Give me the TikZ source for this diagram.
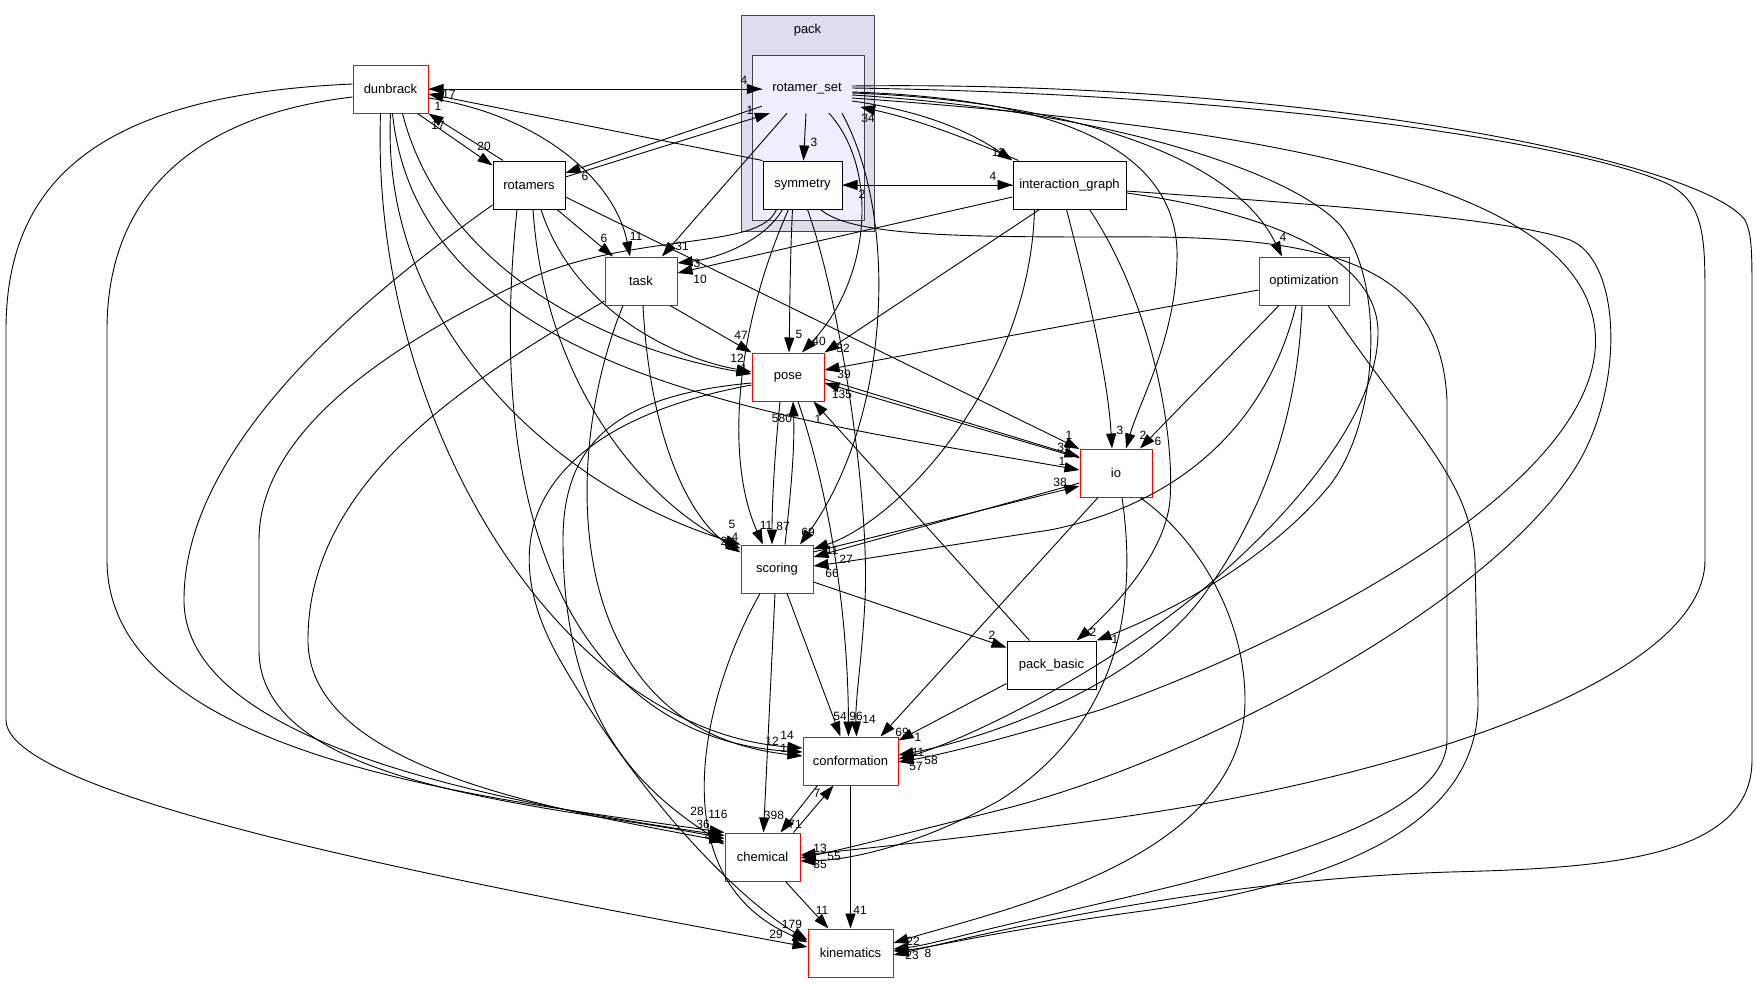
\documentclass[tikz,border=0pt]{standalone}
\usepackage{fontspec}
\setmainfont{Liberation Sans}
\usetikzlibrary{arrows.meta}
\definecolor{clout}{HTML}{DDDDEE}
\definecolor{clin}{HTML}{EEEEFF}
\definecolor{clbd}{HTML}{444444}
\newcommand{\elab}[3]{\node[lbl] (#1) at (#2) {#3};}
\begin{document}
\begin{tikzpicture}[x=1pt,y=-1pt,
  box/.style={draw, line width=1pt, minimum height=48pt, inner sep=0pt, font=\fontsize{13}{15}\selectfont, fill=white},
  rbox/.style={box, draw=red},
  kbox/.style={box, draw=black},
  e/.style={line width=0.9pt, -{Triangle[length=15pt,width=10pt]}},
  lbl/.style={font=\fontsize{12}{13}\selectfont, inner sep=0pt}]
\fill[white] (0,0) rectangle (1757,983);
\path[use as bounding box] (0,0) rectangle (1757,983);
% clusters
\draw[clbd, line width=1pt, fill=clout] (741,15.5) rectangle (874,231);
\draw[clbd, line width=1pt, fill=clin] (752,55) rectangle (864,220);
\node[font=\fontsize{13}{15}\selectfont] (packlbl) at (807.5,30) {pack};
% nodes
\node[rbox, minimum width=75pt] (dun) at (390.5,89) {dunbrack};
\node[kbox, minimum width=72pt] (rot) at (529,185) {rotamers};
\node[rbox, minimum width=72pt] (task) at (641,281) {task};
\node[rbox, minimum width=72pt] (pose) at (788,377) {pose};
\node[rbox, minimum width=72pt] (io) at (1116,473) {io};
\node[rbox, minimum width=72pt] (scor) at (777,569) {scoring};
\node[rbox, minimum width=95pt] (conf) at (850.5,761) {conformation};
\node[rbox, minimum width=75pt] (chem) at (762.5,857) {chemical};
\node[rbox, minimum width=85pt] (kin) at (850.5,953) {kinematics};
\node[kbox, minimum width=89pt] (pb) at (1051.5,665) {pack\_basic};
\node[rbox, minimum width=90pt] (opt) at (1304,281) {optimization};
\node[kbox, minimum width=113pt] (ig) at (1069.5,185) {interaction\_graph};
\node[kbox, minimum width=79pt] (sym) at (802.5,185) {symmetry};
\node[minimum width=90pt, minimum height=48pt, inner sep=0pt, font=\fontsize{13}{15}\selectfont] (rs) at (807,89) {rotamer\_set};
% ---- edges: top region
\draw[e] (dun.east) -- (rs.west);
\draw[e] (rs.west) -- (dun.east);
\draw[e] (sym.north west) -- ([yshift=-5]dun.east);
\draw[e] ([xshift=-26]rot.north) -- (dun.south east);
\draw[e] ([xshift=27]dun.south) -- ([yshift=-5]rot.north west);
\draw[e] ([yshift=7]rs.south west) -- ([yshift=12]rot.east);
\draw[e] ([yshift=8]rot.east) -- ([xshift=8]rs.south west);
\draw[e] ([xshift=-1]rs.south) -- ([xshift=1]sym.north);
\draw[e] ([yshift=-12]rs.east) .. controls (930,112) and (975,135) .. (ig.north west);
\draw[e] ([xshift=6]ig.north west) .. controls (970,140) and (920,120) .. ([xshift=8,yshift=-18]rs.east);
\draw[e] (sym.east) -- (ig.west);
\draw[e] (ig.west) -- (sym.east);
\draw[e] ([yshift=-4]rs.east) .. controls (1050,100) and (1230,150) .. ([xshift=-22]opt.north);
% task
\draw[e] ([xshift=28]rot.south) -- ([xshift=-28]task.north);
\draw[e] ([yshift=-9]dun.east) .. controls (540,115) and (615,180) .. ([xshift=-11]task.north);
\draw[e] ([xshift=-20]rs.south) -- ([xshift=21]task.north);
\draw[e] ([xshift=-20]sym.south) .. controls (765,240) and (720,258) .. ([yshift=18]task.east);
\draw[e] ([yshift=-12]ig.west) -- ([yshift=8]task.east);
% pose
\draw[e] ([xshift=12]rot.south) .. controls (570,300) and (660,355) .. ([yshift=5]pose.west);
\draw[e] ([xshift=12]dun.south) .. controls (440,260) and (590,345) .. ([yshift=3]pose.west);
\draw[e] ([xshift=29]task.south) -- (pose.north west);
\draw[e] ([xshift=-10]sym.south) .. controls (790,260) and (790,300) .. ([xshift=1]pose.north);
\draw[e] ([xshift=22]rs.south) .. controls (880,170) and (870,280) .. ([xshift=14]pose.north);
\draw[e] ([xshift=-30]ig.south) -- (pose.north east);
\draw[e] ([yshift=-9]opt.west) -- ([yshift=7]pose.east);
\draw[e] ([yshift=15]io.west) -- ([yshift=-6]pose.east);
\draw[e] ([yshift=-2]pose.east) -- ([yshift=16]io.west);
\draw[e] ([xshift=-22]pb.north) -- ([xshift=-11]pose.south east);
% io
\draw[e] ([yshift=-12]rot.east) -- ([yshift=24]io.west);
\draw[e] ([xshift=2]dun.south) .. controls (420,380) and (800,420) .. ([yshift=3]io.west);
\draw[e] ([xshift=-3]ig.south) .. controls (1090,300) and (1108,380) .. ([xshift=-4]io.north);
\draw[e] ([yshift=-3]rs.east) .. controls (1100,100) and (1180,170) .. (1177,260) .. controls (1175,340) and (1140,400) .. ([xshift=10]io.north);
\draw[e] ([xshift=-25]opt.south) -- ([xshift=24]io.north);
% scoring
\draw[e] ([xshift=-8]pose.south) .. controls (775,450) and (772,500) .. ([xshift=-5]scor.north);
\draw[e] ([xshift=8]scor.north) .. controls (790,500) and (795,450) .. ([xshift=5]pose.south);
\draw[e] ([xshift=-14]sym.south) .. controls (735,330) and (725,460) .. ([xshift=-14]scor.north);
\draw[e] ([xshift=35]rs.south) .. controls (900,220) and (890,420) .. ([xshift=23]scor.north);
\draw[e] (dun.south) .. controls (380,330) and (560,490) .. (scor.north west);
\draw[e] ([xshift=4]rot.south) .. controls (545,390) and (650,505) .. ([yshift=-4]scor.north west);
\draw[e] ([xshift=2]task.south) .. controls (650,440) and (690,520) .. ([yshift=-8]scor.north west);
\draw[e] ([yshift=-10]io.west) -- ([yshift=12]scor.east);
\draw[e] ([yshift=17]scor.east) -- ([yshift=-13]io.west);
\draw[e] ([xshift=-35]ig.south) .. controls (1030,380) and (900,520) .. ([yshift=20]scor.east);
\draw[e] ([xshift=-8]opt.south) .. controls (1260,450) and (1150,510) .. (1050,530) .. controls (950,545) and (860,560) .. ([yshift=3]scor.east);
\draw[e] ([yshift=-13]scor.east) -- ([yshift=-7]pb.north west);
% pack_basic
\draw[e] ([xshift=20]ig.south) .. controls (1150,300) and (1175,430) .. (1170,500) .. controls (1165,560) and (1100,620) .. ([xshift=25]pb.north);
\draw[e] ([yshift=-6]rs.east) .. controls (1100,110) and (1290,170) .. (1340,225) .. controls (1385,280) and (1380,420) .. (1330,485) .. controls (1260,570) and (1150,620) .. (pb.north east);
\draw[e] ([yshift=6]pb.south west) -- ([yshift=-4]conf.north east);
% conformation
\draw[e] ([xshift=10]scor.south) -- ([xshift=-10]conf.north);
\draw[e] ([xshift=10]pose.south) .. controls (825,480) and (848,600) .. ([xshift=-2]conf.north);
\draw[e] ([xshift=5]sym.south) .. controls (840,300) and (870,500) .. (865,600) .. controls (862,660) and (855,700) .. ([xshift=6]conf.north);
\draw[e] ([xshift=-18]io.south) -- ([xshift=30]conf.north);
\draw[e] ([xshift=-2]opt.south) .. controls (1298,420) and (1260,520) .. (1200,600) .. controls (1130,690) and (980,740) .. ([yshift=6]conf.east);
\draw[e] ([yshift=-8]ig.east) .. controls (1250,210) and (1375,250) .. (1378,330) .. controls (1380,430) and (1250,560) .. (1150,630) .. controls (1050,700) and (950,745) .. ([yshift=2]conf.east);
\draw[e] ([yshift=-9]rs.east) .. controls (1300,130) and (1580,190) .. (1595,330) .. controls (1610,480) and (1300,640) .. (1100,710) .. controls (1000,740) and (940,755) .. ([yshift=-1]conf.east);
\draw[e] ([xshift=-10]dun.south) .. controls (370,420) and (560,730) .. ([yshift=13]conf.west);
\draw[e] ([xshift=-12]rot.south) .. controls (480,560) and (600,740) .. ([yshift=9]conf.west);
\draw[e] ([xshift=-18]task.south) .. controls (560,460) and (560,730) .. ([yshift=5]conf.west);
\draw[e] ([xshift=-33]conf.south) -- ([xshift=18]chem.north);
\draw[e] ([xshift=31]chem.north) -- ([xshift=-17]conf.south);
% chemical
\draw[e] ([xshift=-2]scor.south) -- ([xshift=1]chem.north);
\draw[e] ([yshift=-8]dun.west) .. controls (200,115) and (107,190) .. (107,330) -- (107,560) .. controls (107,760) and (500,800) .. (chem.north west);
\draw[e] ([yshift=-20]rot.west) .. controls (330,320) and (184,460) .. (184,600) .. controls (184,740) and (480,800) .. ([yshift=-3]chem.north west);
\draw[e] ([xshift=-26]sym.south) .. controls (760,250) and (640,232) .. (533,277) .. controls (420,330) and (259,420) .. (259,540) -- (259,650) .. controls (259,790) and (560,805) .. ([yshift=-6]chem.north west);
\draw[e] ([yshift=-20]task.west) .. controls (470,380) and (308,480) .. (308,640) .. controls (308,770) and (560,810) .. ([yshift=-9]chem.north west);
\draw[e] ([yshift=-6]pose.west) .. controls (620,395) and (563,440) .. (563,540) .. controls (563,720) and (640,790) .. ([yshift=-12]chem.north west);
\draw[e] ([xshift=6]io.south) .. controls (1140,620) and (1110,730) .. (1000,800) .. controls (920,845) and (850,860) .. ([yshift=-4]chem.east);
\draw[e] ([yshift=-6]ig.east) .. controls (1250,200) and (1500,215) .. (1570,240) .. controls (1620,260) and (1625,380) .. (1580,460) .. controls (1500,600) and (1200,760) .. (1000,810) .. controls (900,835) and (840,850) .. ([yshift=-1]chem.east);
\draw[e] ([yshift=1]rs.east) .. controls (1300,95) and (1600,150) .. (1670,185) .. controls (1705,205) and (1705,240) .. (1705,300) -- (1705,560) .. controls (1705,680) and (1400,780) .. (1100,820) .. controls (950,840) and (850,850) .. ([yshift=2]chem.east);
% kinematics
\draw[e] (conf.south) -- (kin.north);
\draw[e] ([xshift=23]chem.south) -- ([xshift=-22]kin.north);
\draw[e] ([yshift=5]dun.west) .. controls (100,95) and (6,180) .. (6,330) -- (6,720) .. controls (6,800) and (500,890) .. ([yshift=6]kin.west);
\draw[e] ([yshift=-8]pose.west) .. controls (560,420) and (480,520) .. (560,660) .. controls (640,800) and (740,900) .. ([yshift=13]kin.west);
\draw[e] ([xshift=-17]scor.south) .. controls (700,700) and (660,880) .. ([yshift=11]kin.west);
\draw[e] ([xshift=24]io.south) .. controls (1200,540) and (1245,620) .. (1245,700) .. controls (1245,860) and (1000,910) .. ([yshift=10]kin.east);
\draw[e] ([xshift=24]opt.south) .. controls (1420,440) and (1470,480) .. (1475,560) -- (1478,700) .. controls (1480,820) and (1350,880) .. (1150,910) .. controls (1000,930) and (930,948) .. ([yshift=2]kin.east);
\draw[e] ([xshift=18]sym.south) .. controls (850,235) and (950,237) .. (1100,237) .. controls (1300,235) and (1440,250) .. (1447,400) -- (1447,740) .. controls (1447,830) and (1200,880) .. (1050,915) .. controls (980,930) and (930,945) .. ([yshift=4]kin.east);
\draw[e] ([yshift=3]rs.east) .. controls (1300,80) and (1700,160) .. (1745,220) .. controls (1752,235) and (1752,250) .. (1752,300) -- (1752,760) .. controls (1752,860) and (1600,868) .. (1450,872) .. controls (1200,880) and (980,935) .. ([yshift=-2]kin.east);
% ---- labels
\elab{a1}{744,80}{4}
\elab{a2}{449,94}{17}
\elab{a3}{438,106}{1}
\elab{a4}{438,125}{17}
\elab{a5}{484,146}{20}
\elab{a6}{585,176}{6}
\elab{a7}{750,110}{1}
\elab{a8}{814,142}{3}
\elab{a9}{998,152}{11}
\elab{a10}{868,118}{34}
\elab{a11}{993,176}{4}
\elab{a12}{862,194}{2}
\elab{b1}{604,238}{6}
\elab{b2}{636,236}{11}
\elab{b3}{682,246}{31}
\elab{b4}{697,263}{3}
\elab{b5}{700,279}{10}
\elab{c1}{741,335}{47}
\elab{c2}{799,334}{5}
\elab{c3}{819,341}{40}
\elab{c4}{843,348}{32}
\elab{c5}{737,358}{12}
\elab{c6}{744,368}{1}
\elab{c7}{844,374}{39}
\elab{c8}{842,394}{135}
\elab{c9}{782,418}{580}
\elab{c10}{818,419}{1}
\elab{d1}{1120,430}{3}
\elab{d2}{1143,435}{2}
\elab{d3}{1158,441}{6}
\elab{d4}{1069,435}{1}
\elab{d5}{1064,447}{39}
\elab{d6}{1062,461}{1}
\elab{d7}{1060,482}{38}
\elab{d8}{1283,237}{4}
\elab{e1}{732,524}{5}
\elab{e2}{724,541}{2}
\elab{e3}{735,537}{4}
\elab{e4}{766,525}{11}
\elab{e5}{783,526}{87}
\elab{e6}{808,532}{69}
\elab{e7}{832,550}{11}
\elab{e8}{846,559}{27}
\elab{e9}{832,573}{66}
\elab{f1}{992,635}{2}
\elab{f2}{1093,632}{2}
\elab{f3}{1115,639}{1}
\elab{g1}{840,716}{54}
\elab{g2}{856,716}{96}
\elab{g3}{869,719}{14}
\elab{g4}{902,732}{69}
\elab{g5}{918,737}{1}
\elab{g6}{787,735}{14}
\elab{g7}{787,748}{13}
\elab{g8}{772,741}{12}
\elab{g9}{918,752}{11}
\elab{g10}{916,766}{57}
\elab{g11}{931,760}{58}
\elab{g12}{817,793}{7}
\elab{h1}{774,815}{398}
\elab{h2}{795,824}{71}
\elab{h3}{718,814}{116}
\elab{h4}{703,824}{36}
\elab{h5}{697,811}{28}
\elab{h6}{708,836}{4}
\elab{h7}{820,848}{13}
\elab{h8}{834,856}{55}
\elab{h9}{820,864}{35}
\elab{k1}{822,910}{11}
\elab{k2}{860,910}{41}
\elab{k3}{792,924}{179}
\elab{k4}{776,934}{29}
\elab{k5}{795,937}{1}
\elab{k6}{913,941}{22}
\elab{k7}{912,955}{23}
\elab{k8}{928,953}{8}
\end{tikzpicture}
\end{document}
